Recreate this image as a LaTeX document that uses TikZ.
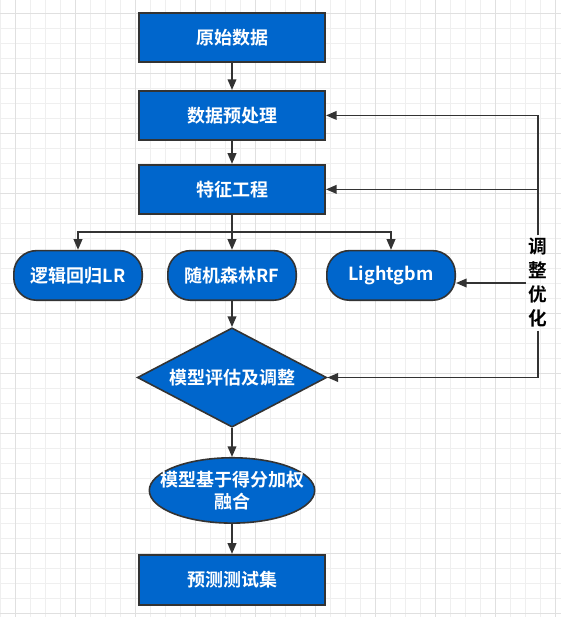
\documentclass[tikz,border=0pt]{standalone}
\usepackage{fontspec}
\setmainfont{Noto Sans CJK SC}[BoldFont={Noto Sans CJK SC Bold}]
\usetikzlibrary{arrows.meta, positioning, shapes.geometric}
\definecolor{boxblue}{HTML}{0066CC}
\definecolor{edgegray}{HTML}{333333}
\definecolor{gridminor}{HTML}{EFEFEF}
\definecolor{gridmajor}{HTML}{E0E0E0}
\tikzset{box/.style={rectangle,draw=edgegray,fill=boxblue,line width=1.2pt,text=white,font=\bfseries\fontsize{13.5pt}{16.5pt}\selectfont,minimum width=139.8pt,minimum height=37pt,inner sep=0pt,align=center},
model/.style={box,rounded corners=17pt,minimum width=96.3pt,minimum height=37.2pt},
judge/.style={box,diamond,minimum width=142pt,minimum height=74.5pt},
merge/.style={box,ellipse,minimum width=124pt,minimum height=49pt},
line/.style={draw=edgegray,line width=1.2pt,-{Triangle[length=8pt,width=6.5pt]}},
note/.style={font=\bfseries\fontsize{14pt}{18pt}\selectfont,align=center,inner sep=2pt},
gridline/.style={draw=gridminor,line width=0.75pt}}

\begin{document}
\begin{tikzpicture}[node distance=20pt and 18pt]
\fill[white] (0,0) rectangle (420.75pt,-462.75pt);
\useasboundingbox (0,0) rectangle (420.75pt,-462.75pt);
% background grid
\foreach \k in {0,...,37} \draw[gridline] (11.25pt*\k,0) -- (11.25pt*\k,-462.75pt);
\foreach \k in {0,...,40} \draw[gridline] (0,-10pt-11.25pt*\k) -- (420.75pt,-10pt-11.25pt*\k);
\foreach \k in {0,...,9} \draw[gridline,draw=gridmajor] (11.25pt+45pt*\k,0) -- (11.25pt+45pt*\k,-462.75pt);
\foreach \k in {0,...,10} \draw[gridline,draw=gridmajor] (0,-10pt-45pt*\k) -- (420.75pt,-10pt-45pt*\k);

\node[box] (raw) at (174pt,-28.125pt) {原始数据};
\node[box, below=20.25pt of raw] (prep) {数据预处理};
\node[box, below=17.25pt of prep] (feat) {特征工程};
\coordinate[below=12.75pt of feat] (fork);
\node[model, below=26.25pt of feat] (rf) {随机森林RF};
\node[model, left=18pt of rf] (lr) {逻辑回归LR};
\node[model, right=21.75pt of rf] (lgbm) {Lightgbm};
\node[judge, below=19.5pt of rf] (eval) {\makebox[0pt]{模型评估及调整}};
\node[merge, below=21.75pt of eval] (fuse) {\makebox[0pt]{模型基于得分加权}\\\makebox[0pt]{融合}};
\node[box, below=22.5pt of fuse, minimum height=37.8pt] (test) {预测测试集};
\node[note] (tune) at (403.5pt,-212.25pt) {调\\整\\优\\化};

\draw[line] (raw) -- (prep);
\draw[line] (prep) -- (feat);
\draw[line] (feat) -- (rf);
\draw[line] (fork) -| (lr.north);
\draw[line] (fork) -| (lgbm.north);
\draw[line] (rf) -- (eval);
\draw[line] (eval) -- (fuse);
\draw[line] (fuse) -- (test);
% feedback
\draw[line] (tune.north) |- (prep.east);
\draw[line] (tune.north |- feat.east) -- (feat.east);
\draw[line] (tune.west) -- (tune.west -| lgbm.east);
\draw[line] (tune.south) |- (eval.east);
\end{tikzpicture}
\end{document}
